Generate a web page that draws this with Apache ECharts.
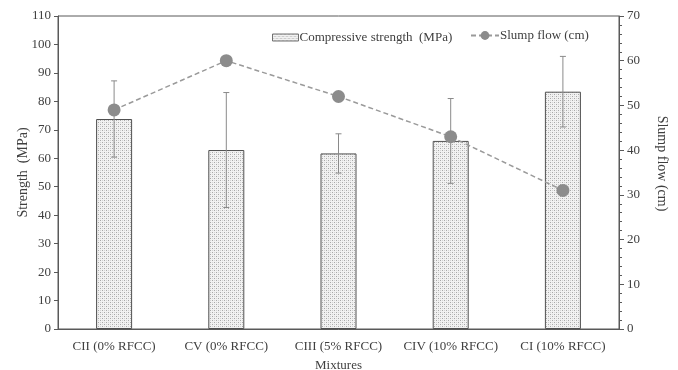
<!DOCTYPE html>
<html><head><meta charset="utf-8">
<script src="https://cdn.jsdelivr.net/npm/echarts@6/dist/echarts.min.js"></script>
<style>html,body{margin:0;padding:0;background:#fff}#c{width:678px;height:370px}</style>
</head><body><div id="c"></div>
<script>
const categories = ['CII (0% RFCC)', 'CV (0% RFCC)', 'CIII (5% RFCC)', 'CIV (10% RFCC)', 'CI (10% RFCC)'];
const strength = [73.8, 62.9, 61.7, 66.1, 83.4];
const strengthErr = [13.4, 20.2, 6.9, 14.9, 12.4];
const slump = [49, 60, 52, 43, 31];
const leftTicks = {min: 0, max: 110, interval: 10};
const rightTicks = {min: 0, max: 70, interval: 10};

const FONT = '"Liberation Serif", "DejaVu Serif", serif';
const TXT = '#404040';
const AX = '#595959';

function makePattern() {
  const c = document.createElement('canvas');
  c.width = 4; c.height = 4;
  const g = c.getContext('2d');
  g.fillStyle = '#f2f2f2'; g.fillRect(0, 0, 4, 4);
  g.fillStyle = '#a8a8a8';
  g.fillRect(0, 0, 1, 1); g.fillRect(2, 2, 1, 1);
  g.fillStyle = '#d4d4d4';
  g.fillRect(2, 0, 1, 1); g.fillRect(0, 2, 1, 1);
  return c;
}
const pattern = {image: makePattern(), repeat: 'repeat'};

const errData = strength.map((v, i) => [i, v - strengthErr[i], v + strengthErr[i]]);

const chart = echarts.init(document.getElementById('c'), null, {renderer: 'canvas'});
chart.setOption({
  animation: false,
  textStyle: {fontFamily: FONT, color: TXT},
  grid: {left: 58, right: 59, top: 16, bottom: 41, show: true, borderColor: AX, borderWidth: 1,
         containLabel: false, outerBoundsMode: 'none'},
  legend: [
    {data: [{name: 'Compressive strength  (MPa)', icon: 'rect'}], left: 267, top: 26, itemWidth: 26, itemHeight: 7, itemGap: 0,
     itemStyle: {borderWidth: 1, borderColor: '#707070'},
     textStyle: {fontFamily: FONT, fontSize: 13, color: TXT, padding: [0, 0, 0, -4]}},
    {data: ['Slump flow (cm)'], left: 465, top: 24, itemWidth: 28, itemHeight: 11, itemGap: 0,
     textStyle: {fontFamily: FONT, fontSize: 13, color: TXT, padding: [0, 0, 0, -4]}}
  ],
  xAxis: {
    type: 'category', data: categories,
    axisLine: {lineStyle: {color: AX, width: 1}}, axisTick: {show: false},
    axisLabel: {fontFamily: FONT, fontSize: 13, color: TXT, margin: 11, interval: 0},
    name: 'Mixtures', nameLocation: 'middle', nameGap: 30, nameMoveOverlap: false,
    nameTextStyle: {fontFamily: FONT, fontSize: 13, color: TXT}
  },
  yAxis: [
    {type: 'value', min: leftTicks.min, max: leftTicks.max, interval: leftTicks.interval,
     axisLine: {show: true, lineStyle: {color: AX}}, axisTick: {show: true, length: 4, lineStyle: {color: AX}},
     splitLine: {show: false},
     axisLabel: {fontFamily: FONT, fontSize: 13, color: TXT, margin: 7},
     name: 'Strength  (MPa)', nameLocation: 'middle', nameGap: 28, nameRotate: 90, nameMoveOverlap: false,
     nameTextStyle: {fontFamily: FONT, fontSize: 14, color: TXT}},
    {type: 'value', min: rightTicks.min, max: rightTicks.max, interval: rightTicks.interval, position: 'right',
     axisLine: {show: true, lineStyle: {color: AX}}, axisTick: {show: true, length: 5, lineStyle: {color: AX}},
     minorTick: {show: true, splitNumber: 5, length: 3, lineStyle: {color: AX}},
     splitLine: {show: false},
     axisLabel: {fontFamily: FONT, fontSize: 13, color: TXT, margin: 8},
     name: 'Slump flow (cm)', nameLocation: 'middle', nameGap: 36, nameRotate: -90,
     nameTextStyle: {fontFamily: FONT, fontSize: 14, color: TXT, padding: [0, 18, 0, 0]}}
  ],
  series: [
    {name: 'Compressive strength  (MPa)', type: 'bar', data: strength, barWidth: 36, yAxisIndex: 0,
     itemStyle: {color: pattern, borderColor: '#505050', borderWidth: 1}},
    {name: 'err', type: 'custom', yAxisIndex: 0, data: errData, z: 3,
     renderItem: function (params, api) {
       const x = api.value(0);
       const lo = api.coord([x, api.value(1)]);
       const hi = api.coord([x, api.value(2)]);
       const cap = 3;
       const st = {stroke: '#8a8a8a', lineWidth: 1};
       return {type: 'group', children: [
         {type: 'line', shape: {x1: lo[0], y1: lo[1], x2: hi[0], y2: hi[1]}, style: st},
         {type: 'line', shape: {x1: hi[0] - cap, y1: hi[1], x2: hi[0] + cap, y2: hi[1]}, style: st},
         {type: 'line', shape: {x1: lo[0] - cap, y1: lo[1], x2: lo[0] + cap, y2: lo[1]}, style: st}
       ]};
     }},
    {name: 'Slump flow (cm)', type: 'line', data: slump, yAxisIndex: 1, z: 4,
     symbol: 'circle', symbolSize: 13,
     lineStyle: {color: '#9a9a9a', width: 1.5, type: [5, 3]},
     itemStyle: {color: '#8c8c8c'}}
  ]
});
</script></body></html>
